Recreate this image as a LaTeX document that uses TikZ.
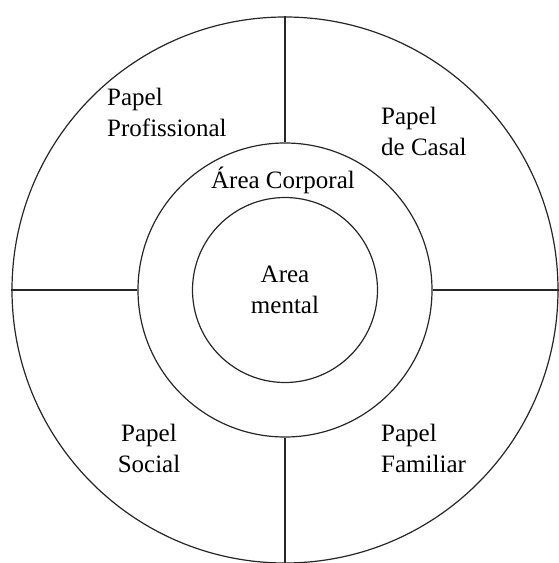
\documentclass[tikz,border=0pt]{standalone}
\usepackage{fontspec}
\setmainfont{Liberation Serif}
\begin{document}
\begin{tikzpicture}[x=1pt,y=-1pt,
  ring/.style={draw=black!85, line width=1.2pt, circle, inner sep=0pt},
  divider/.style={draw=black!85, line width=1.2pt},
  lbl/.style={inner sep=0pt, font=\fontsize{25}{31}\selectfont}]
\useasboundingbox (0,0) rectangle (558,563);
\node[ring, minimum size=546pt] (outer) at (285,290) {};
\node[ring, minimum size=294pt] (middle) at (285,290) {};
\node[ring, minimum size=185pt] (inner) at (285,290) {};
\draw[divider] (outer.north) -- (middle.north);
\draw[divider] (middle.south) -- (outer.south);
\draw[divider] (outer.west) -- (middle.west);
\draw[divider] (middle.east) -- (outer.east);
\node[lbl, align=left, anchor=west] (prof) at (107,112) {Papel\\Profissional};
\node[lbl, align=left, anchor=west] (casal) at (381,131) {Papel\\de Casal};
\node[lbl] (corp) at (283,180) {Área Corporal};
\node[lbl, align=center] (mental) at (285,290) {Area\\mental};
\node[lbl, align=center] (social) at (149,448) {Papel\\Social};
\node[lbl, align=left, anchor=west] (fam) at (381,448) {Papel\\Familiar};
\end{tikzpicture}
\end{document}
